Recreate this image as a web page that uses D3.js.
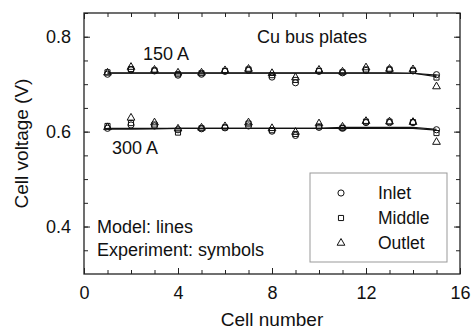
<!DOCTYPE html>
<html>
<head>
  <script src="https://d3js.org/d3.v7.min.js"></script>
  <style>
    body { margin: 0; background: #fff; }
    text { font-family: "Liberation Sans", Arial, sans-serif; fill: #111; }
  </style>
</head>
<body>
  <div id="chart"></div>
  <script>
    // cell numbers 1..15
    var cells = [1, 2, 3, 4, 5, 6, 7, 8, 9, 10, 11, 12, 13, 14, 15];

    // experiment, 150 A
    var inlet150  = [0.721, 0.730, 0.728, 0.719, 0.721, 0.727, 0.729, 0.715, 0.703, 0.727, 0.724, 0.729, 0.730, 0.728, 0.720];
    var middle150 = [0.725, 0.732, 0.729, 0.721, 0.723, 0.728, 0.731, 0.719, 0.709, 0.728, 0.725, 0.731, 0.731, 0.729, 0.714];
    var outlet150 = [0.724, 0.736, 0.730, 0.724, 0.724, 0.729, 0.732, 0.723, 0.714, 0.730, 0.726, 0.735, 0.732, 0.731, 0.695];

    // experiment, 300 A
    var inlet300  = [0.607, 0.614, 0.612, 0.604, 0.606, 0.608, 0.612, 0.601, 0.592, 0.609, 0.607, 0.619, 0.619, 0.619, 0.604];
    var middle300 = [0.612, 0.618, 0.615, 0.598, 0.607, 0.609, 0.617, 0.603, 0.595, 0.611, 0.608, 0.621, 0.621, 0.620, 0.597];
    var outlet300 = [0.609, 0.629, 0.619, 0.606, 0.608, 0.611, 0.619, 0.607, 0.599, 0.617, 0.610, 0.622, 0.621, 0.620, 0.578];

    // model lines
    var model150a = [0.723, 0.723, 0.723, 0.723, 0.723, 0.723, 0.723, 0.723, 0.723, 0.723, 0.723, 0.723, 0.723, 0.723, 0.719];
    var model150b = [0.724, 0.724, 0.724, 0.724, 0.724, 0.724, 0.724, 0.724, 0.724, 0.724, 0.724, 0.724, 0.724, 0.723, 0.716];
    var model300a = [0.605, 0.605, 0.606, 0.607, 0.607, 0.607, 0.607, 0.607, 0.607, 0.607, 0.607, 0.607, 0.607, 0.607, 0.603];
    var model300b = [0.607, 0.607, 0.607, 0.607, 0.607, 0.607, 0.607, 0.607, 0.607, 0.607, 0.609, 0.609, 0.609, 0.609, 0.605];

    var xTicks = [0, 4, 8, 12, 16];
    var yTicks = [0.4, 0.6, 0.8];
    var seriesNames = ["Inlet", "Middle", "Outlet"];

    var margin = { top: 13, right: 13, bottom: 58, left: 84 },
        width = 473 - margin.left - margin.right,
        height = 332 - margin.top - margin.bottom;

    var svg = d3.select("#chart")
      .append("svg")
      .attr("width", 473)
      .attr("height", 332)
      .append("g")
      .attr("transform", "translate(" + margin.left + "," + margin.top + ")");

    var x = d3.scaleLinear().domain([0, 16]).range([0, width]);
    var y = d3.scaleLinear().domain([0.3, 0.85]).range([height, 0]);

    // minor ticks
    var xMinor = d3.range(0, 17, 1);
    var yMinor = d3.range(0.35, 0.851, 0.05);

    // bottom axis (ticks pointing inward)
    svg.append("g")
      .attr("transform", "translate(0," + height + ")")
      .call(d3.axisBottom(x).tickValues(xMinor).tickSize(-4).tickFormat(""))
      .call(g => g.select(".domain").remove());
    svg.append("g")
      .attr("transform", "translate(0," + height + ")")
      .call(d3.axisBottom(x).tickValues(xTicks).tickSize(-6).tickPadding(12).tickFormat(d3.format("d")))
      .call(g => g.select(".domain").remove())
      .selectAll("text").style("font-size", "18px");
    // top
    svg.append("g")
      .call(d3.axisTop(x).tickValues(xMinor).tickSize(-4).tickFormat(""))
      .call(g => g.select(".domain").remove());
    svg.append("g")
      .call(d3.axisTop(x).tickValues(xTicks).tickSize(-6).tickFormat(""))
      .call(g => g.select(".domain").remove());

    // left
    svg.append("g")
      .call(d3.axisLeft(y).tickValues(yMinor).tickSize(-4).tickFormat(""))
      .call(g => g.select(".domain").remove());
    svg.append("g")
      .call(d3.axisLeft(y).tickValues(yTicks).tickSize(-6).tickPadding(13).tickFormat(d3.format(".1f")))
      .call(g => g.select(".domain").remove())
      .selectAll("text").style("font-size", "18px");
    // right
    svg.append("g")
      .attr("transform", "translate(" + width + ",0)")
      .call(d3.axisRight(y).tickValues(yMinor).tickSize(-4).tickFormat(""))
      .call(g => g.select(".domain").remove());
    svg.append("g")
      .attr("transform", "translate(" + width + ",0)")
      .call(d3.axisRight(y).tickValues(yTicks).tickSize(-6).tickFormat(""))
      .call(g => g.select(".domain").remove());

    svg.selectAll(".tick line").attr("stroke", "#222");

    // frame
    svg.append("rect")
      .attr("width", width)
      .attr("height", height)
      .attr("fill", "none")
      .attr("stroke", "#222")
      .attr("stroke-width", 1.3);

    // model lines
    var line = d3.line()
      .x((d, i) => x(cells[i]))
      .y(d => y(d));

    [model150a, model150b, model300a, model300b].forEach(function (m) {
      svg.append("path")
        .datum(m)
        .attr("d", line)
        .attr("fill", "none")
        .attr("stroke", "#111")
        .attr("stroke-width", 1.2);
    });

    // symbols
    var shapes = [d3.symbolCircle, d3.symbolSquare, d3.symbolTriangle];
    var sizes = [30, 26, 26];
    var groups = [
      [inlet150, middle150, outlet150],
      [inlet300, middle300, outlet300]
    ];

    groups.forEach(function (grp) {
      grp.forEach(function (vals, k) {
        svg.append("g")
          .selectAll("path")
          .data(vals)
          .join("path")
          .attr("transform", (d, i) => "translate(" + x(cells[i]) + "," + y(d) + ")")
          .attr("d", d3.symbol().type(shapes[k]).size(sizes[k]))
          .attr("fill", "none")
          .attr("stroke", "#111")
          .attr("stroke-width", 1);
      });
    });

    // annotations
    svg.append("text").attr("x", 173).attr("y", 30).text("Cu bus plates").style("font-size", "18px");
    svg.append("text").attr("x", 59).attr("y", 47).text("150 A").style("font-size", "18px");
    svg.append("text").attr("x", 28).attr("y", 141).text("300 A").style("font-size", "18px");
    svg.append("text").attr("x", 13).attr("y", 220).text("Model: lines").style("font-size", "18px");
    svg.append("text").attr("x", 13).attr("y", 243).text("Experiment: symbols").style("font-size", "18px");

    // legend
    var legend = svg.append("g").attr("transform", "translate(" + (310 - margin.left) + "," + (173 - margin.top) + ")");
    legend.append("rect")
      .attr("width", 137)
      .attr("height", 89)
      .attr("fill", "#fff")
      .attr("stroke", "#999")
      .attr("stroke-width", 1);
    seriesNames.forEach(function (name, k) {
      legend.append("path")
        .attr("transform", "translate(31," + (20 + k * 25) + ")")
        .attr("d", d3.symbol().type(shapes[k]).size(sizes[k]))
        .attr("fill", "none")
        .attr("stroke", "#111")
        .attr("stroke-width", 1);
      legend.append("text")
        .attr("x", 68)
        .attr("y", 20 + k * 25)
        .attr("dy", "0.35em")
        .text(name)
        .style("font-size", "17.5px");
    });

    // axis titles
    svg.append("text")
      .attr("text-anchor", "middle")
      .attr("x", width / 2)
      .attr("y", height + 52)
      .text("Cell number")
      .style("font-size", "19px");

    svg.append("text")
      .attr("text-anchor", "middle")
      .attr("transform", "translate(" + (-56) + "," + (height / 2) + ") rotate(-90)")
      .text("Cell voltage (V)")
      .style("font-size", "19px");
  </script>
</body>
</html>
